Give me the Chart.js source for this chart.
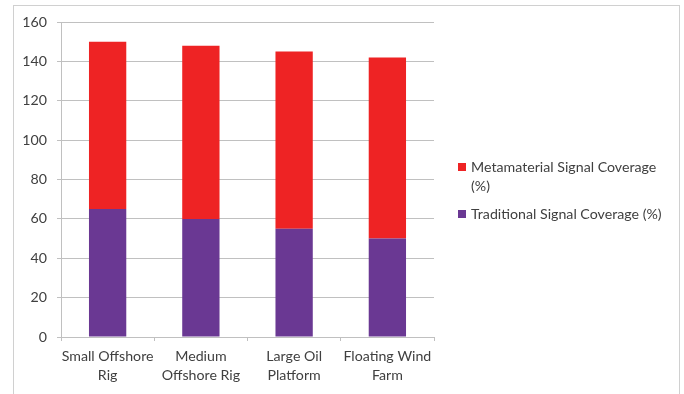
<!DOCTYPE html>
<html>
<head>
<meta charset="utf-8">
<script src="https://cdn.jsdelivr.net/npm/chart.js@4"></script>
<style>
  html, body { margin: 0; padding: 0; background: #fff; }
  #wrap { position: relative; width: 684px; height: 394px; overflow: hidden; }
  #frame { position: absolute; left: 13px; top: 5px; width: 667px; height: 420px;
           border: 1px solid #d0d0d0; box-sizing: border-box; }
  #chart { position: absolute; left: 0; top: 0; }
  #legend { position: absolute; left: 458px; top: 157px; width: 215px;
            font: 14.2px Lato, "Open Sans", sans-serif; color: #404040; }
  .item { position: relative; padding-left: 13px; line-height: 19px; margin-bottom: 9px; }
  .swatch { position: absolute; left: 0; top: 6px; width: 8px; height: 8px; }
</style>
</head>
<body>
<div id="wrap">
  <div id="frame"></div>
  <canvas id="chart" width="684" height="394"></canvas>
  <div id="legend"></div>
</div>
<script>
// Platform types along the x axis (each entry is one or two label lines)
const categories = [
  ['Small Offshore', 'Rig'],
  ['Medium', 'Offshore Rig'],
  ['Large Oil', 'Platform'],
  ['Floating Wind', 'Farm']
];
// Coverage values per platform
const traditionalCoverage = [65, 60, 55, 50];
const metamaterialCoverage = [85, 88, 90, 92];
// Value axis
const yTicks = { min: 0, max: 160, step: 20 };

const seriesNames = ['Traditional Signal Coverage (%)', 'Metamaterial Signal Coverage (%)'];
const seriesColors = ['#6A3893', '#EE2324'];

const textColor = '#404040';
const gridColor = '#c0c0c0';
const font = { family: 'Lato, "Open Sans", sans-serif', size: 14.2 };

const chart = new Chart(document.getElementById('chart'), {
  type: 'bar',
  data: {
    labels: categories,
    datasets: [
      { label: seriesNames[0], data: traditionalCoverage, backgroundColor: seriesColors[0] },
      { label: seriesNames[1], data: metamaterialCoverage, backgroundColor: seriesColors[1] }
    ]
  },
  options: {
    responsive: false,
    animation: false,
    events: [],
    layout: { padding: { left: 13, right: 250, top: 22, bottom: 0 } },
    datasets: { bar: { categoryPercentage: 1, barPercentage: 0.4 } },
    plugins: { legend: { display: false }, tooltip: { enabled: false } },
    scales: {
      x: {
        stacked: true,
        offset: true,
        afterFit: s => { s.height = 57; },
        grid: { offset: true, drawOnChartArea: false, drawTicks: true, tickLength: 4, color: gridColor },
        border: { display: true, color: gridColor },
        ticks: { color: textColor, font: Object.assign({ lineHeight: 1.4 }, font), maxRotation: 0, autoSkip: false, padding: 5 }
      },
      y: {
        stacked: true,
        min: yTicks.min,
        max: yTicks.max,
        afterFit: s => { s.width = 48; },
        grid: { color: gridColor, tickLength: 4 },
        border: { display: true, color: gridColor },
        ticks: { stepSize: yTicks.step, color: textColor, font: font, padding: 10 }
      }
    }
  }
});

// Legend entries, top series first
const legend = document.getElementById('legend');
chart.data.datasets.slice().reverse().forEach(ds => {
  const item = document.createElement('div');
  item.className = 'item';
  const sw = document.createElement('span');
  sw.className = 'swatch';
  sw.style.background = ds.backgroundColor;
  item.appendChild(sw);
  item.appendChild(document.createTextNode(ds.label));
  legend.appendChild(item);
});
</script>
</body>
</html>
